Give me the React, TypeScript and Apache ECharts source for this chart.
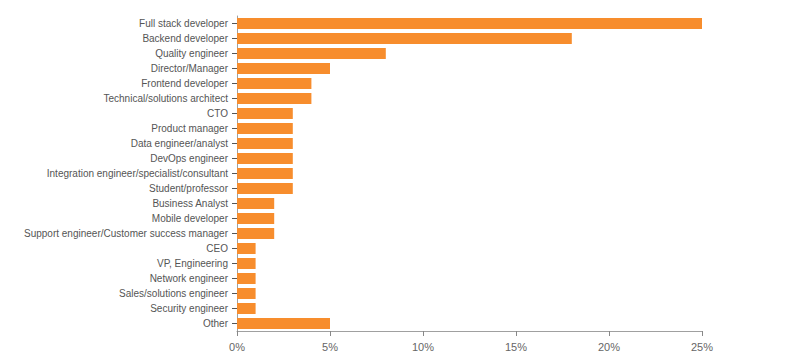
import React, { useEffect, useRef } from "react";
import * as echarts from "echarts";

const categories = [
  "Full stack developer",
  "Backend developer",
  "Quality engineer",
  "Director/Manager",
  "Frontend developer",
  "Technical/solutions architect",
  "CTO",
  "Product manager",
  "Data engineer/analyst",
  "DevOps engineer",
  "Integration engineer/specialist/consultant",
  "Student/professor",
  "Business Analyst",
  "Mobile developer",
  "Support engineer/Customer success manager",
  "CEO",
  "VP, Engineering",
  "Network engineer",
  "Sales/solutions engineer",
  "Security engineer",
  "Other",
];

const values = [25, 18, 8, 5, 4, 4, 3, 3, 3, 3, 3, 3, 2, 2, 2, 1, 1, 1, 1, 1, 5];

const xTicks = [0, 5, 10, 15, 20, 25];

export default function App() {
  const ref = useRef<HTMLDivElement>(null);
  useEffect(() => {
    if (!ref.current) return;
    const chart = echarts.init(ref.current, undefined, { renderer: "svg" });
    const font = "Helvetica, 'Liberation Sans', Arial, sans-serif";
    chart.setOption({
      animation: false,
      grid: { left: 237, right: 92, top: 16, bottom: 30, containLabel: false },
      xAxis: {
        type: "value",
        min: xTicks[0],
        max: xTicks[xTicks.length - 1],
        interval: 5,
        axisLine: { show: true, lineStyle: { color: "#a0a0a0", width: 1 } },
        axisTick: { show: true, length: 5, lineStyle: { color: "#888" } },
        splitLine: { show: false },
        axisLabel: {
          formatter: (v: number) => v + "%",
          color: "#666",
          fontSize: 11,
          fontFamily: font,
          margin: 10,
        },
      },
      yAxis: {
        type: "category",
        data: categories,
        inverse: true,
        axisLine: { show: true, lineStyle: { color: "#a0a0a0", width: 1 } },
        axisTick: { show: true, length: 5, alignWithLabel: true, lineStyle: { color: "#555" } },
        axisLabel: {
          color: "#555",
          fontSize: 10,
          fontFamily: font,
          margin: 9,
        },
      },
      series: [
        {
          type: "bar",
          data: values,
          barWidth: 11,
          itemStyle: { color: "#F78D2D" },
        },
      ],
    });
    return () => chart.dispose();
  }, []);
  return (
    <div
      ref={ref}
      style={{ position: "absolute", left: 0, top: 0, width: 794, height: 361 }}
    />
  );
}
